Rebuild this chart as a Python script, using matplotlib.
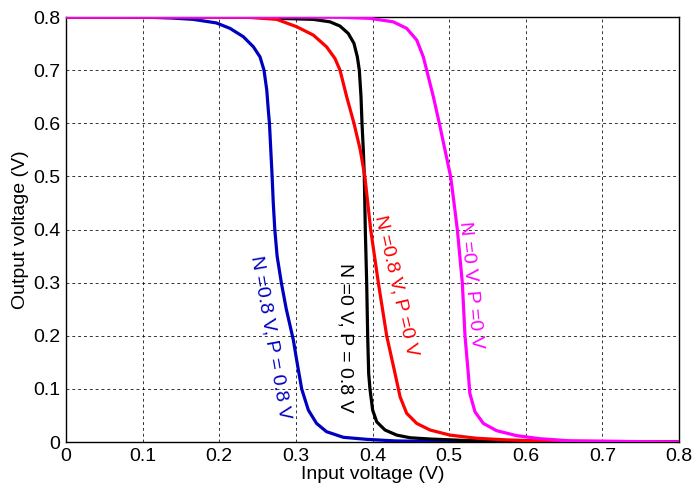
import matplotlib
matplotlib.use('Agg')
import matplotlib.pyplot as plt

plt.rcParams['font.family'] = ['Liberation Sans', 'DejaVu Sans']

# transfer curves of the inverter for the four back-gate bias cases
blue_x = [0, 0.05, 0.1096, 0.140, 0.166, 0.196, 0.214, 0.2314, 0.2445, 0.2532, 0.2584, 0.262,
          0.264, 0.2655, 0.269, 0.2705, 0.2725, 0.2755, 0.281, 0.2875, 0.2967, 0.301, 0.3076,
          0.3163, 0.327, 0.340, 0.362, 0.3924, 0.43, 0.5, 0.8]
blue_y = [0.8, 0.8, 0.7995, 0.798, 0.7956, 0.789, 0.7787, 0.763, 0.744, 0.725, 0.700, 0.6626,
          0.625, 0.600, 0.500, 0.450, 0.400, 0.350, 0.300, 0.250, 0.192, 0.1544, 0.0998,
          0.060, 0.035, 0.0194, 0.0088, 0.005, 0.002, 0.0005, 0]

black_x = [0, 0.2, 0.25, 0.279, 0.3228, 0.3445, 0.3576, 0.3684, 0.3758, 0.3802, 0.3828, 0.385,
           0.3863, 0.388, 0.3893, 0.3906, 0.3924, 0.3937, 0.395, 0.3967, 0.4002, 0.4055,
           0.4163, 0.4316, 0.449, 0.475, 0.52, 0.6, 0.8]
black_y = [0.8, 0.8, 0.799, 0.7975, 0.7956, 0.791, 0.783, 0.769, 0.7505, 0.725, 0.700, 0.65,
           0.600, 0.5497, 0.5, 0.4, 0.3, 0.2, 0.129, 0.0998, 0.060, 0.038,
           0.0226, 0.013, 0.008, 0.0056, 0.003, 0.001, 0]

red_x = [0, 0.15, 0.240, 0.275, 0.301, 0.3228, 0.340, 0.351, 0.3576, 0.3663, 0.3758, 0.384,
         0.390, 0.3976, 0.4076, 0.4185, 0.4294, 0.436, 0.4446, 0.4577, 0.475, 0.501, 0.536,
         0.575, 0.62, 0.8]
red_y = [0.8, 0.8, 0.7995, 0.7956, 0.7818, 0.766, 0.744, 0.722, 0.700, 0.650, 0.600, 0.55,
         0.5, 0.4, 0.3, 0.2, 0.129, 0.085, 0.054, 0.035, 0.0226, 0.013, 0.007,
         0.004, 0.002, 0]

mag_x = [0, 0.3, 0.36, 0.3967, 0.427, 0.4446, 0.4577, 0.4663, 0.4707, 0.4794, 0.4872, 0.4946,
         0.502, 0.507, 0.5107, 0.5172, 0.5207, 0.525, 0.527, 0.5337, 0.5446, 0.562, 0.588,
         0.6186, 0.66, 0.8]
mag_y = [0.8, 0.8, 0.7995, 0.7975, 0.791, 0.7787, 0.7567, 0.725, 0.700, 0.65, 0.600, 0.5497,
         0.4995, 0.443, 0.4, 0.3, 0.2, 0.129, 0.0917, 0.057, 0.035, 0.0213, 0.012,
         0.0062, 0.002, 0]

labels = ['N =0.8 V, P = 0.8 V', 'N =0 V, P = 0.8 V', 'N =0.8 V, P =0 V', 'N =0 V, P =0 V']
ticks = [0, 0.1, 0.2, 0.3, 0.4, 0.5, 0.6, 0.7, 0.8]
tick_labels = ['0', '0.1', '0.2', '0.3', '0.4', '0.5', '0.6', '0.7', '0.8']

fig = plt.figure(figsize=(6.94, 4.87), dpi=100)
ax = fig.add_axes([0.0951, 0.0924, 0.8833, 0.8726])

curves = [(blue_x, blue_y, '#0000c0'), (black_x, black_y, 'black'),
          (red_x, red_y, '#ff0000'), (mag_x, mag_y, '#ff00ff')]
for xs, ys, c in curves:
    ax.plot(xs, ys, color=c, lw=2.3, solid_joinstyle='round', zorder=3)

# curve annotations, rotated along each curve
label_pos = [(0.2662, 0.1976, -80), (0.364, 0.197, -90), (0.4307, 0.2937, -77), (0.5292, 0.2955, -84.5)]
for (lx, ly, rot), text, (_, _, c) in zip(label_pos, labels, curves):
    ax.text(lx, ly, text, color=c, rotation=rot, rotation_mode='anchor',
            ha='center', va='center', fontsize=14, zorder=4)

ax.set_xlim(0, 0.8)
ax.set_ylim(0, 0.8)
ax.set_xticks(ticks)
ax.set_xticklabels(tick_labels)
ax.set_yticks(ticks)
ax.set_yticklabels(tick_labels)
ax.tick_params(direction='in', length=0, labelsize=14, pad=4)
ax.grid(True, color='black', lw=0.7, linestyle=(0, (3, 3)), alpha=0.8)
for s in ax.spines.values():
    s.set_linewidth(1.0)

ax.set_xlabel('Input voltage (V)', fontsize=14, labelpad=1)
ax.set_ylabel('Output voltage (V)', fontsize=14, labelpad=3)

fig.savefig('out.png', dpi=100)
